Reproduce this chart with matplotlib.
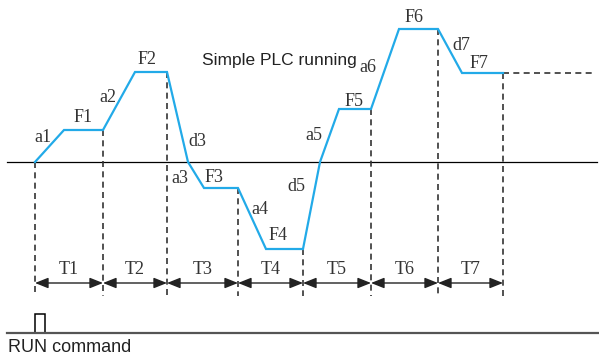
import matplotlib
matplotlib.use("Agg")
import matplotlib.pyplot as plt
from matplotlib.patches import Rectangle

# --- data ----------------------------------------------------------------
# step boundaries on the time axis (start of T1 ... end of T7)
t_bounds = [35, 103, 167, 238, 303, 371, 438, 503]
# time at which each step reaches its set frequency
ramp_end = [64, 135, 204, 266, 339, 399, 462]
# running frequency of each step (F1..F7), zero = stopped
levels = [32, 90, -26, -87, 53, 133, 89]
# where a reversing ramp passes through zero (d3/a3, d5/a5)
zero_cross = {2: 188, 4: 320}
freq_names = ["F1", "F2", "F3", "F4", "F5", "F6", "F7"]
ramp_names = ["a1", "a2", "d3", "a3", "a4", "d5", "a5", "a6", "d7"]
step_names = ["T1", "T2", "T3", "T4", "T5", "T6", "T7"]
f7_hold_end = 593

# --- layout --------------------------------------------------------------
BLUE = "#22aae8"
DARK = "#333333"
SERIF = "Liberation Serif"
SANS = "Liberation Sans"
freq_lbl_pos = [(83, 44), (147, 102), (214, -16), (278, -74), (354, 61), (414, 144), (479, 98)]
ramp_lbl_pos = [(43, 24), (108, 65), (197, 20), (180, -17), (260, -48), (296, -25),
                (314, 26), (368, 94), (461, 116)]
arrow_y, dash_bottom, t_lbl_y = -121, -134, -107
run_y = -171

fig = plt.figure(figsize=(5.99, 3.57), dpi=100)
ax = fig.add_axes([0, 0, 1, 1])
ax.set_xlim(0, 599)
ax.set_ylim(-195, 162)
ax.axis("off")

# frequency profile
px, py = [t_bounds[0]], [0]
for i, lv in enumerate(levels):
    if i in zero_cross:
        px.append(zero_cross[i]); py.append(0)
    px += [ramp_end[i], t_bounds[i + 1]]
    py += [lv, lv]
ax.plot(px, py, color=BLUE, lw=1.6, solid_joinstyle="miter", zorder=3)
ax.plot([t_bounds[-1], f7_hold_end], [levels[-1], levels[-1]], color=DARK,
        lw=1.2, ls=(0, (3.6, 2.6)))

# zero axis
ax.plot([7, 597], [0, 0], color="black", lw=0.9, zorder=2)

# step boundaries
tops = [0] + levels
for t, top in zip(t_bounds, tops):
    ax.plot([t, t], [top, dash_bottom], color=DARK, lw=1.2, ls=(0, (3.6, 2.6)))

# step durations
for i, name in enumerate(step_names):
    a, b = t_bounds[i], t_bounds[i + 1]
    ax.annotate("", xy=(b, arrow_y), xytext=(a, arrow_y),
                arrowprops=dict(arrowstyle="<|-|>,head_length=0.8,head_width=0.32",
                                color="#222222", lw=1.0, shrinkA=0, shrinkB=0))
    ax.text((a + b) / 2, t_lbl_y, name, family=SERIF, fontsize=13,
            ha="center", va="center", color=DARK)

for name, (x, y) in zip(freq_names, freq_lbl_pos):
    ax.text(x, y, name, family=SERIF, fontsize=13, ha="center", va="center", color=DARK)
for name, (x, y) in zip(ramp_names, ramp_lbl_pos):
    ax.text(x, y, name, family=SERIF, fontsize=13, ha="center", va="center", color=DARK)

ax.text(202, 97, "Simple PLC running", family=SANS, fontsize=12.5,
        ha="left", va="baseline", color="#222222")

# RUN command
ax.plot([7, 599], [run_y, run_y], color="#555555", lw=1.6)
ax.add_patch(Rectangle((35, run_y), 10, 19, fill=False, ec="black", lw=1.1))
ax.text(8, -190, "RUN command", family=SANS, fontsize=13, ha="left",
        va="baseline", color="#222222")

fig.savefig("out.png", dpi=100)
